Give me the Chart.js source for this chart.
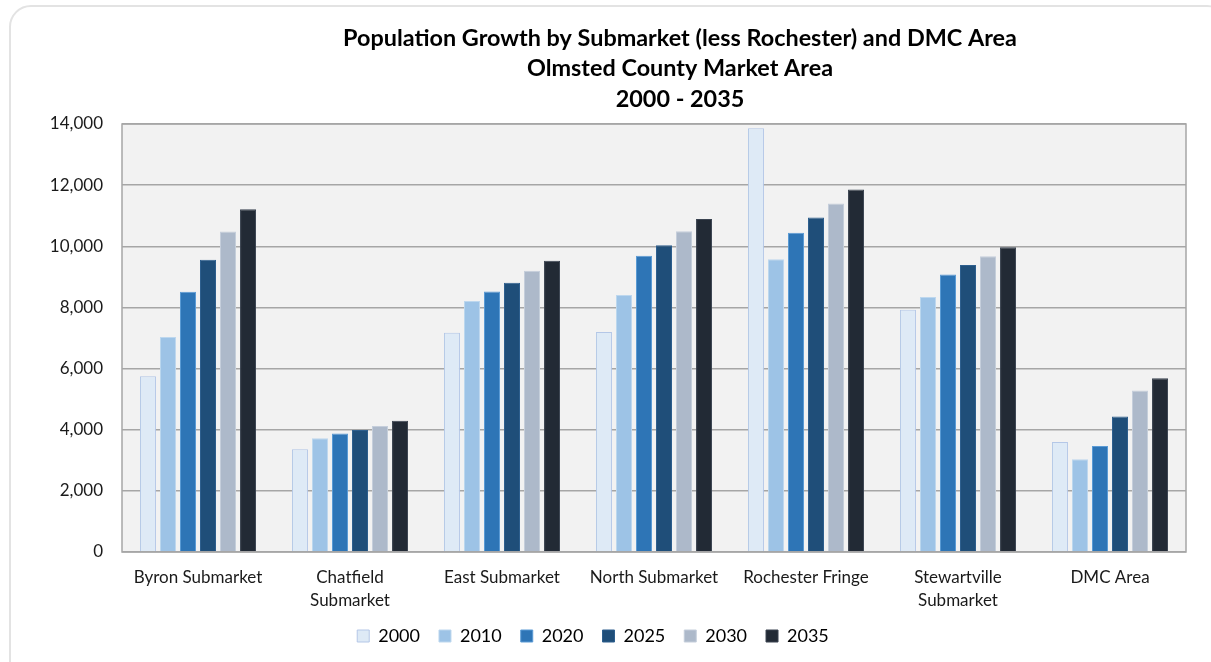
<!DOCTYPE html>
<html>
<head>
<meta charset="utf-8">
<title>Population Growth by Submarket</title>
<script src="https://cdn.jsdelivr.net/npm/chart.js@4.4.1/dist/chart.umd.min.js"></script>
<style>
  html, body { margin: 0; padding: 0; background: #fff; overflow: hidden; }
  #card {
    position: absolute; left: 9px; top: 5px; width: 1220px; height: 680px;
    border: 2px solid #e3e3e3; border-radius: 22px; box-sizing: border-box;
  }
  #wrap { position: absolute; left: 0; top: 0; width: 1211px; height: 662px; }
</style>
</head>
<body>
<div id="card"></div>
<div id="wrap"><canvas id="pop-chart"></canvas></div>
<script>
// Submarkets along the x axis
const categories = [
    "Byron Submarket",
    ["Chatfield", "Submarket"],
    "East Submarket",
    "North Submarket",
    "Rochester Fringe",
    ["Stewartville", "Submarket"],
    "DMC Area"
];

const years = ["2000", "2010", "2020", "2025", "2030", "2035"];

// Population per year, one value per submarket
const pop2000 = [5750, 3360, 7170, 7200, 13860, 7920, 3600];
const pop2010 = [7030, 3720, 8210, 8410, 9580, 8340, 3030];
const pop2020 = [8510, 3880, 8520, 9690, 10440, 9080, 3470];
const pop2025 = [9560, 3990, 8810, 10030, 10940, 9390, 4430];
const pop2030 = [10480, 4120, 9200, 10490, 11400, 9670, 5280];
const pop2035 = [11210, 4290, 9530, 10890, 11860, 9970, 5680];

const yTicks = [0, 2000, 4000, 6000, 8000, 10000, 12000, 14000];

const titleLines = [
    "Population Growth by Submarket (less Rochester) and DMC Area",
    "Olmsted County Market Area",
    "2000 - 2035"
];

const fills = ["#deeaf6", "#9dc3e6", "#2e75b6", "#1f4e79", "#adb9ca", "#222a35"];
const borders = ["#b4c7e7", "#bdd7ee", "#5b9bd5", "#2e5f8e", "#c5cedb", "#3a4350"];

const FONT = "Lato, 'Open Sans', sans-serif";

// grey plot background, frame and the three-line heading
const plotFrame = {
    id: "plotFrame",
    beforeDraw(chart) {
        const { ctx, chartArea: a } = chart;
        ctx.save();
        ctx.fillStyle = "#f2f2f2";
        ctx.fillRect(a.left, a.top, a.right - a.left, a.bottom - a.top);
        ctx.restore();
    },
    afterDraw(chart) {
        const { ctx, chartArea: a } = chart;
        ctx.save();
        ctx.strokeStyle = "#a6a6a6";
        ctx.lineWidth = 1.5;
        ctx.strokeRect(a.left, a.top, a.right - a.left, a.bottom - a.top);

        ctx.fillStyle = "#000";
        ctx.font = "bold 23.4px " + FONT;
        ctx.textAlign = "center";
        ctx.textBaseline = "middle";
        titleLines.forEach((line, i) => {
            ctx.fillText(line, 680, 38 + i * 30.5);
        });
        ctx.restore();
    }
};

const pops = [pop2000, pop2010, pop2020, pop2025, pop2030, pop2035];

new Chart(document.getElementById("pop-chart"), {
    type: "bar",
    data: {
        labels: categories,
        datasets: years.map((yr, i) => ({
            label: yr,
            data: pops[i],
            backgroundColor: fills[i],
            borderColor: borders[i],
            borderWidth: 1,
            categoryPercentage: 0.79,
            barPercentage: 0.8
        }))
    },
    options: {
        responsive: true,
        maintainAspectRatio: false,
        animation: false,
        layout: { padding: { top: 124, right: 25, left: 0, bottom: 7 } },
        plugins: {
            title: { display: false },
            tooltip: { enabled: false },
            legend: {
                position: "bottom",
                labels: {
                    font: { family: FONT, size: 18 },
                    color: "#000",
                    boxWidth: 12,
                    boxHeight: 12,
                    padding: 19
                }
            }
        },
        scales: {
            x: {
                grid: { display: false },
                border: { display: false },
                ticks: {
                    font: { family: FONT, size: 17, lineHeight: 1.35 },
                    color: "#1a1a1a",
                    padding: 6,
                    maxRotation: 0,
                    autoSkip: false
                },
                afterFit: (scale) => { scale.height = 56; }
            },
            y: {
                min: 0,
                max: 14000,
                afterBuildTicks: (scale) => { scale.ticks = yTicks.map(v => ({ value: v })); },
                grid: { color: "#a6a6a6", lineWidth: 1.5, drawTicks: false },
                border: { display: false },
                ticks: {
                    font: { family: FONT, size: 17 },
                    color: "#1a1a1a",
                    padding: 19,
                    callback: (v) => v.toLocaleString("en-US")
                },
                afterFit: (scale) => { scale.width = 122; }
            }
        }
    },
    plugins: [plotFrame]
});
</script>
</body>
</html>
